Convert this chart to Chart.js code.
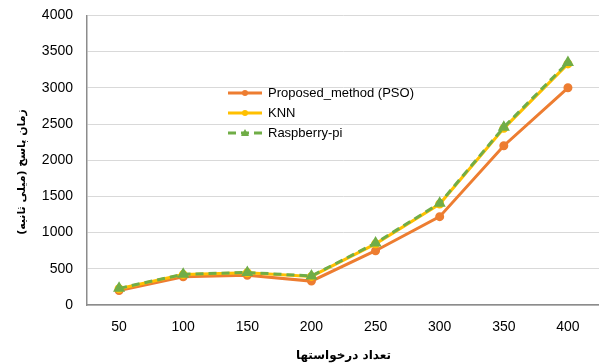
<!DOCTYPE html>
<html>
<head>
<meta charset="utf-8">
<script src="https://cdn.jsdelivr.net/npm/chart.js@4.4.0/dist/chart.umd.min.js"></script>
<style>
	html, body { margin: 0; padding: 0; background: #fff; overflow: hidden; }
	#box { width: 607px; height: 370px; position: relative; margin-top: -7px; }
</style>
</head>
<body>
<div id="box"><canvas id="chart"></canvas></div>
<script>
const requests = ['50', '100', '150', '200', '250', '300', '350', '400'];
const proposedPSO = [200, 390, 410, 330, 750, 1220, 2200, 3000];
const knn = [225, 420, 445, 395, 845, 1395, 2440, 3330];
const raspberryPi = [230, 425, 450, 400, 855, 1405, 2455, 3350];
const yTicks = [0, 500, 1000, 1500, 2000, 2500, 3000, 3500, 4000];

const font = 'Liberation Sans, Arial, sans-serif';

// legend drawn inside the plot area, y title drawn by hand (sits a bit below centre)
const innerLegend = {
	id: 'innerLegend',
	afterDraw: (chart) => {
		const ctx = chart.ctx;
		const x0 = 228;
		let y = 100;
		ctx.save();
		chart.data.datasets.forEach((ds) => {
			ctx.strokeStyle = ds.borderColor;
			ctx.lineWidth = 3;
			ctx.setLineDash(ds.borderDash || []);
			ctx.beginPath();
			ctx.moveTo(x0, y);
			ctx.lineTo(x0 + 34, y);
			ctx.stroke();
			ctx.setLineDash([]);
			ctx.fillStyle = ds.borderColor;
			ctx.beginPath();
			if (ds.pointStyle === 'triangle') {
				ctx.moveTo(x0 + 17, y - 4);
				ctx.lineTo(x0 + 21, y + 3);
				ctx.lineTo(x0 + 13, y + 3);
			} else {
				ctx.arc(x0 + 17, y, 3, 0, Math.PI * 2);
			}
			ctx.fill();
			ctx.fillStyle = '#000';
			ctx.font = '13px ' + font;
			ctx.textBaseline = 'middle';
			ctx.fillText(ds.label, x0 + 40, y);
			y += 20;
		});

		ctx.translate(22, 179);
		ctx.rotate(-Math.PI / 2);
		ctx.fillStyle = '#000';
		ctx.font = 'bold 11px DejaVu Sans, sans-serif';
		ctx.textAlign = 'center';
		ctx.textBaseline = 'middle';
		ctx.fillText('زمان پاسخ (میلی ثانیه)', 0, 0);
		ctx.restore();
	},
};

const data = {
	labels: requests,
	datasets: [
		{
			label: 'Proposed_method (PSO)',
			data: proposedPSO,
			borderColor: '#ED7D31',
			backgroundColor: '#ED7D31',
			borderWidth: 3,
			pointStyle: 'circle',
			pointRadius: 3,
			order: 3,
		},
		{
			label: 'KNN',
			data: knn,
			borderColor: '#FFC000',
			backgroundColor: '#FFC000',
			borderWidth: 3,
			pointStyle: 'circle',
			pointRadius: 3,
			order: 2,
		},
		{
			label: 'Raspberry-pi',
			data: raspberryPi,
			borderColor: '#70AD47',
			backgroundColor: '#70AD47',
			borderWidth: 3,
			borderDash: [8, 5],
			pointStyle: 'triangle',
			pointRadius: 4,
			order: 1,
		},
	],
};

const config = {
	type: 'line',
	data: data,
	options: {
		responsive: true,
		maintainAspectRatio: false,
		animation: false,
		layout: { padding: { top: 6, right: 0, bottom: 0, left: 14 } },
		plugins: {
			legend: { display: false },
			tooltip: { enabled: false },
		},
		scales: {
			x: {
				offset: true,
				grid: { display: false, drawTicks: false },
				border: { color: '#8c8c8c', width: 1.5 },
				ticks: { color: '#000', padding: 14, font: { size: 14, family: font } },
				title: {
					display: true,
					text: 'تعداد درخواستها',
					color: '#000',
					padding: { top: 3, bottom: 0 },
					font: { size: 12, weight: 'bold', family: 'DejaVu Sans, sans-serif' },
				},
				afterFit: (axis) => { axis.height = 58; },
			},
			y: {
				min: 0,
				max: 4000,
				afterBuildTicks: (axis) => { axis.ticks = yTicks.map((v) => ({ value: v })); },
				grid: { color: '#d9d9d9', lineWidth: 1, drawTicks: false },
				border: { color: '#8c8c8c', width: 1.5 },
				ticks: {
					color: '#000',
					padding: 14,
					font: { size: 14, family: font },
					callback: (v) => String(v),
				},
				afterFit: (axis) => { axis.width = 73; },
			},
		},
	},
	plugins: [innerLegend],
};

const ctx = document.getElementById('chart').getContext('2d');
const myChart = new Chart(ctx, config);
</script>
</body>
</html>
